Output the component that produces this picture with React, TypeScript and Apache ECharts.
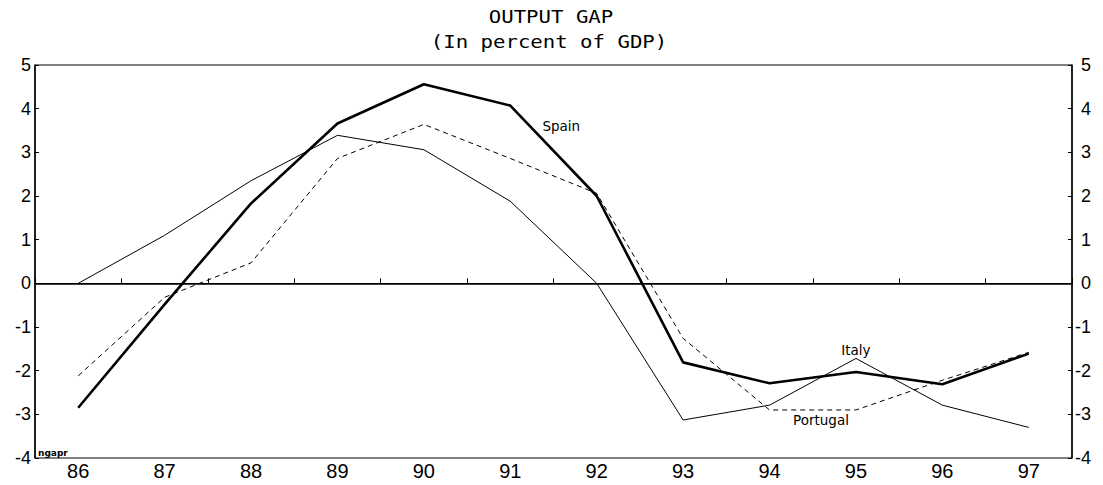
import React, { useEffect, useRef } from "react";
import * as echarts from "echarts";

const years = ["86", "87", "88", "89", "90", "91", "92", "93", "94", "95", "96", "97"];
const spain = [-2.85, -0.48, 1.83, 3.66, 4.56, 4.07, 2.0, -1.81, -2.29, -2.03, -2.31, -1.61];
const italy = [0.0, 1.1, 2.35, 3.39, 3.06, 1.88, 0.0, -3.13, -2.79, -1.72, -2.79, -3.3];
const portugal = [-2.12, -0.32, 0.47, 2.86, 3.64, 2.86, 2.06, -1.26, -2.9, -2.9, -2.22, -1.58];
const titleLines = ["OUTPUT GAP", "(In percent of GDP)"];
const yMin = -4;
const yMax = 5;

const labelFont = "'Liberation Sans', Arial, sans-serif";
const noteFont = "'DejaVu Sans', sans-serif";

function tag(text: string, category: string, value: number, offset: [number, number]) {
  return {
    coord: [category, value],
    symbol: "circle",
    symbolSize: 0,
    label: {
      show: true,
      formatter: text,
      position: "inside",
      offset,
      color: "#000",
      fontFamily: noteFont,
      fontSize: 13.5,
    },
  };
}

export default function App() {
  const ref = useRef<HTMLDivElement>(null);

  useEffect(() => {
    if (!ref.current) return;
    const chart = echarts.init(ref.current, undefined, { renderer: "svg" });
    const yAxisBase = {
      type: "value",
      min: yMin,
      max: yMax,
      interval: 1,
      splitLine: { show: false },
      axisLine: { show: true, lineStyle: { color: "#000", width: 1.5 } },
      axisTick: { show: true, inside: true, length: 4, lineStyle: { color: "#000", width: 1 } },
    };
    chart.setOption({
      animation: false,
      backgroundColor: "#fff",
      grid: {
        left: 35,
        right: 31,
        top: 65,
        bottom: 27,
        show: true,
        borderColor: "#000",
        borderWidth: 1,
        backgroundColor: "transparent",
      },
      graphic: [
        {
          type: "text",
          x: 551,
          y: 17,
          scaleX: 1.15,
          style: {
            text: titleLines[0],
            fontFamily: "'DejaVu Sans Mono', monospace",
            fontSize: 18,
            fill: "#000",
            align: "center",
            verticalAlign: "middle",
          },
        },
        {
          type: "text",
          x: 549,
          y: 42,
          scaleX: 1.15,
          style: {
            text: titleLines[1],
            fontFamily: "'DejaVu Sans Mono', monospace",
            fontSize: 18,
            fill: "#000",
            align: "center",
            verticalAlign: "middle",
          },
        },
        {
          type: "text",
          x: 38,
          y: 453,
          style: {
            text: "ngapr",
            fontFamily: noteFont,
            fontSize: 9,
            fontWeight: "bold",
            fill: "#000",
            align: "left",
            verticalAlign: "middle",
          },
        },
      ],
      xAxis: {
        type: "category",
        data: years,
        boundaryGap: true,
        axisLine: { show: true, lineStyle: { color: "#000", width: 1.5 } },
        axisTick: { show: true, inside: true, length: 5, lineStyle: { color: "#000", width: 1 } },
        axisLabel: {
          color: "#000",
          fontFamily: labelFont,
          fontSize: 20,
          margin: 3,
        },
        splitLine: { show: false },
      },
      yAxis: [
        {
          ...yAxisBase,
          position: "left",
          axisLabel: { color: "#000", fontFamily: labelFont, fontSize: 18, margin: 4 },
        },
        {
          ...yAxisBase,
          position: "right",
          axisLabel: {
            color: "#000",
            fontFamily: labelFont,
            fontSize: 18,
            margin: 19,
            align: "right",
          },
        },
      ],
      series: [
        {
          name: "Italy",
          type: "line",
          data: italy,
          symbol: "none",
          lineStyle: { color: "#000", width: 1 },
          markLine: {
            silent: true,
            symbol: "none",
            label: { show: false },
            lineStyle: { color: "#000", width: 1, type: "solid" },
            data: [{ yAxis: 0 }],
          },
          markPoint: { silent: true, data: [tag("Italy", "95", italy[9], [0, -8])] },
        },
        {
          name: "Portugal",
          type: "line",
          data: portugal,
          symbol: "none",
          lineStyle: { color: "#000", width: 1, type: [5, 4] },
          markPoint: { silent: true, data: [tag("Portugal", "95", portugal[9], [-35, 10])] },
        },
        {
          name: "Spain",
          type: "line",
          data: spain,
          symbol: "none",
          lineStyle: { color: "#000", width: 2.6 },
          markPoint: { silent: true, data: [tag("Spain", "91", spain[5], [51, 20])] },
        },
      ],
    });
    return () => chart.dispose();
  }, []);

  return (
    <div
      ref={ref}
      style={{ position: "fixed", left: 0, top: 0, width: 1103, height: 485, background: "#fff" }}
    />
  );
}
